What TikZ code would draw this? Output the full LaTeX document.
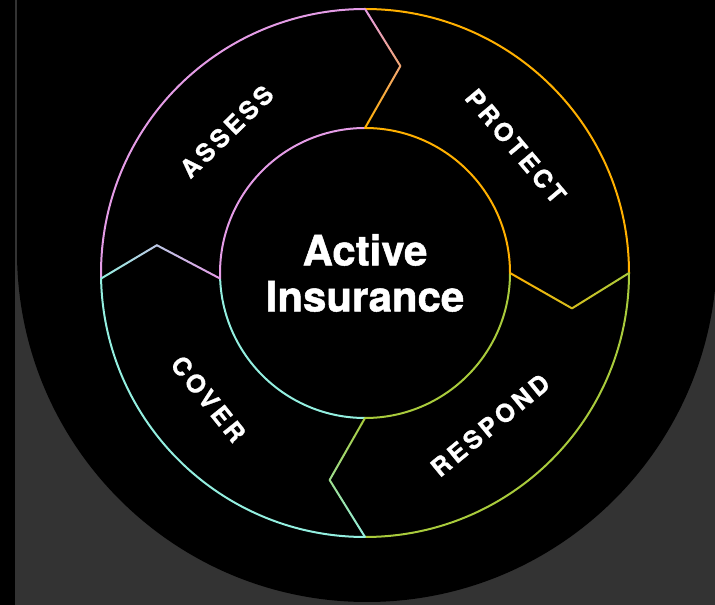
\documentclass[tikz,border=0pt]{standalone}
\usepackage{fontspec}
\setmainfont{TeX Gyre Heros}
\usetikzlibrary{calc}

\definecolor{assesspink}{HTML}{E49CE6}
\definecolor{protectorange}{HTML}{FFB000}
\definecolor{respondgreen}{HTML}{A9CB3C}
\definecolor{coveraqua}{HTML}{93EFE0}
\definecolor{panelgrey}{HTML}{333333}

\tikzset{
	ring/.style={line width=2pt},
	phase/.style={text=white, inner sep=0pt, font=\bfseries\fontsize{25}{25}\selectfont\addfontfeature{LetterSpace=14,FakeBold=0.8}},
	hubtext/.style={text=white, inner sep=0pt, align=center, font=\bfseries\fontsize{42}{46}\selectfont\addfontfeature{FakeBold=1.2}},
}

% one leg of a chevron, colour fading from #3 to #4
\newcommand{\fadeleg}[5]{%
	\foreach \i in {0,...,9}{
		\pgfmathtruncatemacro\pa{#5+\i*5+2}
		\pgfmathsetmacro\ta{\i/10}
		\pgfmathsetmacro\tb{(\i+1)/10}
		\draw[ring, line cap=round, color=#4!\pa!#3] ($(#1)!\ta!(#2)$) -- ($(#1)!\tb!(#2)$);
	}}

\begin{document}
\begin{tikzpicture}[x=1pt,y=1pt]
		\useasboundingbox (0,0) rectangle (715,605);
		\clip (0,0) rectangle (715,605);
		
		% backdrop
		\fill[black] (0,0) rectangle (715,605);
		\fill[panelgrey] (15,0) rectangle (715,605);
		\fill[black] (17,605) -- (17,353) arc[start angle=180, end angle=360, radius=350] -- (717,605) -- cycle;
		
		\begin{scope}[shift={(365,332)}]
		% junctions
		\coordinate (topout) at (90:264);
		\coordinate (topmid) at (80.3:210);
		\coordinate (topin) at (90:145);
		\coordinate (rightout) at (0:264);
		\coordinate (rightmid) at (-9.7:210);
		\coordinate (rightin) at (0:145);
		\coordinate (botout) at (270:264);
		\coordinate (botmid) at (260.3:210);
		\coordinate (botin) at (270:145);
		\coordinate (leftout) at (181.2:264);
		\coordinate (leftmid) at (172.4:210);
		\coordinate (leftin) at (182.2:145);
		
		% outer ring
		\draw[ring, assesspink] (topout) arc[start angle=90, end angle=181.2, radius=264];
		\draw[ring, coveraqua] (leftout) arc[start angle=181.2, end angle=270, radius=264];
		\draw[ring, respondgreen] (botout) arc[start angle=270, end angle=360, radius=264];
		\draw[ring, protectorange] (rightout) arc[start angle=0, end angle=90, radius=264];
		% inner ring
		\draw[ring, assesspink] (topin) arc[start angle=90, end angle=182.2, radius=145];
		\draw[ring, coveraqua] (leftin) arc[start angle=182.2, end angle=270, radius=145];
		\draw[ring, respondgreen] (botin) arc[start angle=270, end angle=360, radius=145];
		\draw[ring, protectorange] (rightin) arc[start angle=0, end angle=90, radius=145];
		
		% chevrons
		\fadeleg{topout}{topmid}{assesspink}{protectorange}{0}
		\fadeleg{topmid}{topin}{assesspink}{protectorange}{50}
		\fadeleg{rightin}{rightmid}{protectorange}{respondgreen}{0}
		\fadeleg{rightmid}{rightout}{protectorange}{respondgreen}{50}
		\fadeleg{botin}{botmid}{respondgreen}{coveraqua}{0}
		\fadeleg{botmid}{botout}{respondgreen}{coveraqua}{50}
		\fadeleg{leftout}{leftmid}{coveraqua}{assesspink}{0}
		\fadeleg{leftmid}{leftin}{coveraqua}{assesspink}{50}
		
		% labels
		\node[phase, rotate=44.4] (assess) at (134.4:198) {ASSESS};
		\node[phase, rotate=-49.9] (protect) at (40.1:197) {PROTECT};
		\node[phase, rotate=39.4] (respond) at (-50.6:197) {RESPOND};
		\node[phase, rotate=-51.2] (cover) at (218.8:201) {COVER};
		\node[hubtext] (hub) at (0,0) {Active\\Insurance};
		\end{scope}
	\end{tikzpicture}
\end{document}
